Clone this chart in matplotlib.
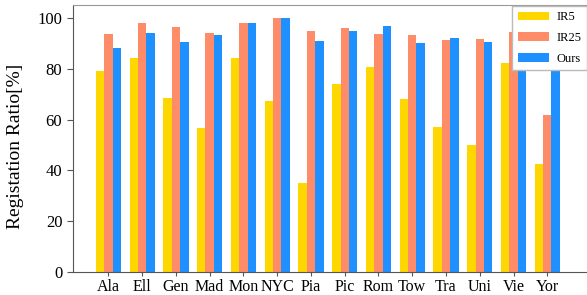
import matplotlib
matplotlib.use('Agg')
import matplotlib.pyplot as plt
import numpy as np

plt.rcParams['font.family'] = ['Liberation Serif', 'DejaVu Serif']

# --- données ---
villes = ['Ala', 'Ell', 'Gen', 'Mad', 'Mon', 'NYC', 'Pia', 'Pic', 'Rom', 'Tow',
          'Tra', 'Uni', 'Vie', 'Yor']
ir5 = [79.0, 84.0, 68.6, 56.5, 84.0, 67.1, 34.9, 74.1, 80.8, 68.2, 56.9, 49.9, 82.4, 42.6]
ir25 = [93.7, 98.0, 96.3, 94.0, 98.0, 99.9, 94.6, 95.8, 93.7, 93.1, 91.1, 91.8, 94.5, 61.8]
ours = [88.1, 94.2, 90.4, 93.3, 97.8, 100.0, 90.8, 94.9, 96.6, 90.2, 92.0, 90.6, 93.0, 92.0]

fig = plt.figure(figsize=(5.87, 2.95), dpi=100)
ax = fig.add_axes([0.1238, 0.077, 0.8775, 0.906])

x = np.arange(len(villes))
w = 0.25
ax.bar(x - w, ir5, w, color='#FFD700', label='IR5')
ax.bar(x, ir25, w, color='#FF8C69', label='IR25')
ax.bar(x + w, ours, w, color='#1E90FF', label='Ours')

ax.set_xlim(-1.06, 14.2)
ax.set_ylim(0, 105)
ax.set_xticks(x)
ax.set_xticklabels(villes, fontsize=11.5)
ax.set_yticks([0, 20, 40, 60, 80, 100])
ax.tick_params(axis='y', labelsize=12, length=4, color='#555555')
ax.tick_params(axis='x', length=3, pad=1.5, color='#555555')
ax.set_ylabel('Registation Ratio[%]', fontsize=14)
ax.yaxis.set_label_coords(-0.095, 0.47)

for s in ax.spines.values():
    s.set_color('#555555')
ax.spines['top'].set_color('#999999')

leg = ax.legend(loc='upper right', fontsize=9, fancybox=False, framealpha=1,
                edgecolor='#bbbbbb', handlelength=2.5, handleheight=0.7,
                borderaxespad=0.05, labelspacing=0.7, handletextpad=0.6,
                borderpad=0.45)

fig.savefig('out.png', dpi=100)
